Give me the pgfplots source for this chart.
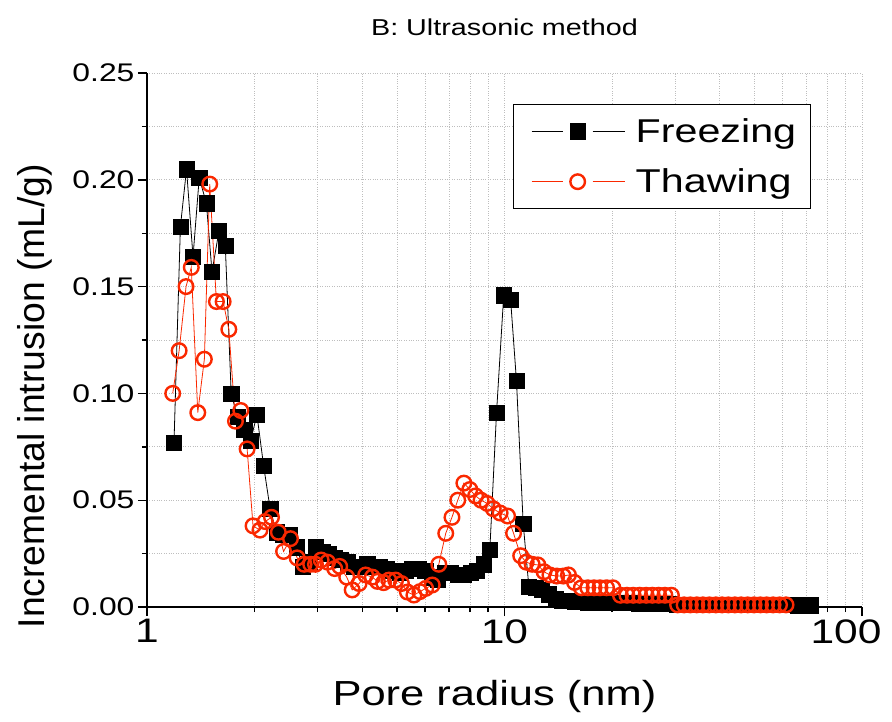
\documentclass[border=0pt]{standalone}
\usepackage{pgfplots}
\pgfplotsset{compat=1.18}
\usepackage{fontspec}
\setmainfont{Liberation Sans}[FakeStretch=1.25]
\newfontfamily\ylabfont{Liberation Sans}
\definecolor{orred}{RGB}{250,40,0}
\definecolor{gridgray}{RGB}{190,190,190}

\pgfplotsset{
  every axis title/.style={at={(0.5,1.0693)},anchor=base,font=\fontsize{23}{23}\selectfont},
  every axis x label/.style={at={(axis description cs:0.486,-0.185)},anchor=base,font=\fontsize{34.8}{34.8}\selectfont},
  every axis y label/.style={at={(axis description cs:-0.1427,0.395)},rotate=90,anchor=base,font=\ylabfont\fontsize{37.3}{37.3}\selectfont},
}

\begin{document}
\begin{tikzpicture}
\path[use as bounding box] (-147pt,-114pt) rectangle (745pt,607pt);
\begin{axis}[
  scale only axis,
  width=715pt, height=534pt,
  xmode=log,
  xmin=1, xmax=100,
  ymin=0, ymax=0.25,
  axis lines=left,
  axis line style={-, line width=1.6pt, black},
  tick align=outside,
  major tick length=9pt,
  minor tick length=5pt,
  every tick/.style={black, line width=1.4pt},
  xtick={1,10,100},
  xticklabels={1,10,{\kern-32pt 100}},
  ytick={0,0.05,0.1,0.15,0.2,0.25},
  minor ytick={0.025,0.075,0.125,0.175,0.225},
  /pgf/number format/assume math mode=true,
  yticklabel style={/pgf/number format/.cd, fixed, fixed zerofill, precision=2, /tikz/.cd, font=\fontsize{25.5}{25.5}\selectfont},
  xticklabel style={font=\fontsize{34}{34}\selectfont},
  grid=both,
  major grid style={dotted, gridgray, line width=0.7pt},
  minor grid style={dotted, gridgray, line width=0.7pt},
  title={B: Ultrasonic method},
  xlabel={Pore radius (nm)},
  ylabel={Incremental intrusion (mL/g)},
  legend style={at={(axis description cs:0.512,0.942)}, anchor=north west, draw=black, line width=1.2pt, fill=white,
    font=\fontsize{33}{33}\selectfont, inner xsep=10pt, inner ysep=10pt, row sep=17pt,
    nodes={inner sep=4pt}},
  legend cell align=left,
  legend image code/.code={
    \path[draw=none] (0pt,0pt) (108pt,0pt);
    \draw[#1,mark=none] (8pt,0pt) -- (39pt,0pt);
    \draw[#1,mark=none] (69pt,0pt) -- (101pt,0pt);
    \draw[#1] plot coordinates {(54pt,0pt)};
  },
]
\addplot[black, line width=0.8pt, mark=square*, mark size=7.6pt, mark options={solid, fill=black, line width=0.4pt}] coordinates {
(1.19,0.077) (1.24,0.178) (1.29,0.205) (1.345,0.164) (1.40,0.201) (1.466,0.189)
(1.52,0.157) (1.59,0.176) (1.656,0.169) (1.72,0.100) (1.79,0.089) (1.87,0.083)
(1.95,0.078) (2.03,0.090) (2.12,0.066) (2.21,0.046) (2.30,0.035) (2.40,0.034)
(2.51,0.034) (2.62,0.028) (2.73,0.019) (2.85,0.021) (2.96,0.028) (3.09,0.026)
(3.22,0.025) (3.35,0.023) (3.49,0.022) (3.64,0.021) (3.80,0.019) (3.96,0.019)
(4.13,0.020) (4.30,0.019) (4.48,0.019) (4.67,0.018) (4.87,0.017) (5.08,0.016)
(5.30,0.017) (5.52,0.018) (5.76,0.018) (6.00,0.017) (6.26,0.014) (6.52,0.013)
(6.80,0.016) (7.09,0.016) (7.39,0.015) (7.70,0.015) (8.03,0.016) (8.37,0.017)
(8.73,0.020) (9.10,0.027) (9.50,0.091) (9.95,0.146) (10.4,0.144) (10.8,0.106)
(11.28,0.039) (11.7,0.0095) (12.2,0.009) (12.7,0.008) (13.3,0.006) (13.9,0.004)
(14.5,0.003) (15.1,0.003) (15.7,0.0025) (16.4,0.0025) (17.1,0.002) (17.8,0.002)
(18.5,0.002) (19.3,0.002) (20.1,0.002) (21.0,0.002) (21.9,0.002) (22.8,0.002)
(23.8,0.0015) (24.8,0.0015) (25.8,0.0015) (26.9,0.0015) (28.0,0.0015) (29.2,0.0015)
(30.4,0.0012) (31.7,0.0012) (33.0,0.0012) (34.4,0.0012) (35.8,0.0012) (37.3,0.001)
(38.9,0.001) (40.5,0.001) (42.2,0.001) (44.0,0.001) (45.8,0.001) (47.7,0.001)
(49.7,0.001) (51.8,0.001) (54.0,0.001) (56.2,0.001) (58.6,0.001) (61.0,0.001)
(63.6,0.001) (66.2,0.0008) (69.0,0.0008) (71.9,0.0008)
};
\addlegendentry{Freezing}
\addplot[orred, line width=0.8pt, mark=o, mark size=7.3pt, mark options={solid, fill=white, line width=2.4pt}] coordinates {
(1.18,0.100) (1.23,0.120) (1.286,0.150) (1.33,0.159) (1.387,0.091) (1.447,0.116)
(1.498,0.198) (1.564,0.143) (1.633,0.143) (1.694,0.130) (1.768,0.087) (1.83,0.092)
(1.906,0.074) (1.98,0.038) (2.07,0.036) (2.14,0.040) (2.23,0.042) (2.33,0.035)
(2.41,0.026) (2.52,0.032) (2.63,0.023) (2.75,0.020) (2.87,0.020) (2.96,0.020)
(3.07,0.022) (3.20,0.021) (3.35,0.018) (3.46,0.019) (3.62,0.014) (3.75,0.008)
(3.92,0.011) (4.09,0.015) (4.27,0.014) (4.41,0.012) (4.59,0.0114) (4.75,0.0126)
(4.96,0.0126) (5.15,0.011) (5.35,0.007) (5.58,0.0056) (5.80,0.0072) (6.02,0.0087)
(6.28,0.0103) (6.55,0.020) (6.85,0.0345) (7.13,0.042) (7.40,0.050) (7.70,0.058)
(8.00,0.055) (8.30,0.052) (8.60,0.050) (8.94,0.0485) (9.30,0.046) (9.72,0.044)
(10.2,0.0426) (10.6,0.0345) (11.1,0.024) (11.5,0.021) (11.95,0.020) (12.4,0.0197)
(12.9,0.0165) (13.4,0.015) (14.0,0.0145) (14.6,0.0145) (15.1,0.015) (15.7,0.0115)
(16.4,0.009) (17.1,0.009) (17.8,0.009) (18.5,0.009) (19.3,0.009) (20.1,0.009)
(21.1,0.0055) (22.0,0.0055) (22.9,0.0055) (23.9,0.0055) (24.9,0.0055) (25.9,0.0055)
(27.0,0.0055) (28.1,0.0055) (29.3,0.0055) (30.5,0.001) (31.8,0.001) (33.1,0.001)
(34.5,0.001) (35.9,0.001) (37.4,0.001) (39.0,0.001) (40.6,0.001) (42.3,0.001)
(44.1,0.001) (45.9,0.001) (47.9,0.001) (49.9,0.001) (52.0,0.001) (54.1,0.001)
(56.4,0.001) (58.8,0.001) (61.3,0.001)
};
\addlegendentry{Thawing}
\end{axis}
\end{tikzpicture}
\end{document}
